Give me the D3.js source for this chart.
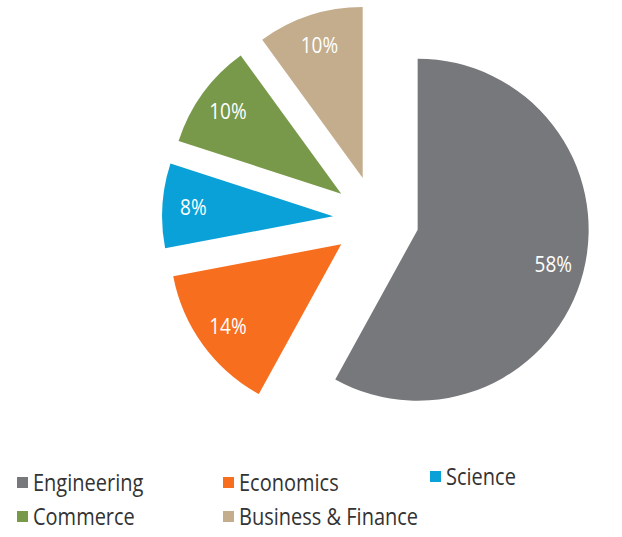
<!DOCTYPE html>
<html>
<head>
<meta charset="utf-8">
<script src="https://cdn.jsdelivr.net/npm/d3@7"></script>
<style>
  body { margin: 0; background: #fff; }
  text { font-family: "Open Sans", "Noto Sans", sans-serif; }
</style>
</head>
<body>
<div id="chart"></div>
<script>
// pie chart, every slice pulled out from the centre
const categories = ["Engineering", "Economics", "Science", "Commerce", "Business & Finance"];
const values = [58, 14, 8, 10, 10];
const colors = ["#77787c", "#f76e1e", "#0aa1d9", "#78994a", "#c3ad8c"];

const width = 622,
    height = 537,
    cx = 376, cy = 219,
    radius = 171,
    explode = 43;

const svg = d3.select("#chart")
    .append("svg")
    .attr("width", width)
    .attr("height", height);

const data = categories.map((c, i) => ({ name: c, value: values[i], color: colors[i] }));

const pie = d3.pie()
    .sort(null)
    .value(d => d.value);

const arc = d3.arc().innerRadius(0).outerRadius(radius);
const labelArc = d3.arc().innerRadius(140).outerRadius(140);

const slices = svg.append("g")
    .attr("transform", `translate(${cx},${cy})`)
    .selectAll("g")
    .data(pie(data))
    .join("g")
    .attr("transform", d => {
        let a = (d.startAngle + d.endAngle) / 2;
        return `translate(${Math.sin(a) * explode},${-Math.cos(a) * explode})`;
    });

slices.append("path")
    .attr("d", arc)
    .attr("fill", d => d.data.color);

// the original font is taller than Open Sans, so stretch it a bit
slices.append("text")
    .attr("transform", d => `translate(${labelArc.centroid(d)}) scale(1,1.15)`)
    .attr("text-anchor", "middle")
    .attr("dy", "0.35em")
    .attr("fill", "#fff")
    .style("font-size", "19px")
    .text(d => d.data.value + "%");

// legend, two rows
const legendPos = [[17, 483], [223, 483], [430, 477], [17, 517], [223, 517]];

const legend = svg.append("g")
    .selectAll("g")
    .data(data)
    .join("g")
    .attr("transform", (d, i) => `translate(${legendPos[i][0]},${legendPos[i][1]})`);

legend.append("rect")
    .attr("x", 0)
    .attr("y", -6)
    .attr("width", 11)
    .attr("height", 11)
    .attr("fill", d => d.color);

legend.append("text")
    .attr("transform", "translate(16,0) scale(1,1.15)")
    .attr("dy", "0.35em")
    .attr("fill", "#333")
    .style("font-size", "20px")
    .text(d => d.name);
</script>
</body>
</html>
